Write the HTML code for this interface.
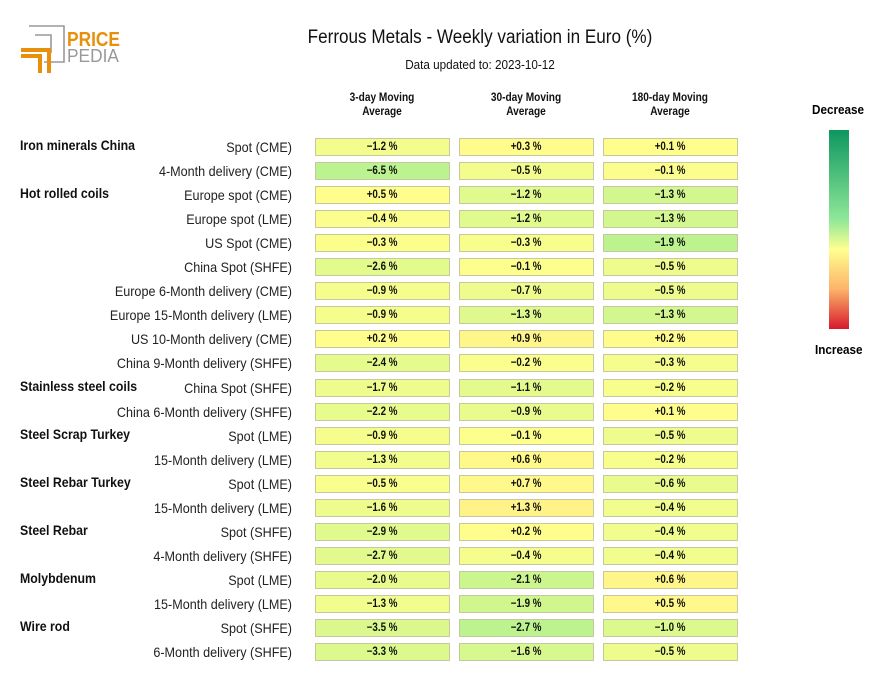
<!DOCTYPE html>
<html><head><meta charset="utf-8"><style>
body{margin:0;width:880px;height:680px;background:#fff;font-family:"Liberation Sans",sans-serif;position:relative;overflow:hidden}
.a{position:absolute}
.lab{font-size:14px;color:#222;text-align:right;width:320px;left:-28px;transform:scaleX(0.9);transform-origin:100% 0;white-space:nowrap}
.grp{font-size:14px;font-weight:bold;color:#111;left:20px;transform:scaleX(0.88);transform-origin:0 0;white-space:nowrap}
.cell{height:18px;border:1px solid #c8c8a0;box-sizing:border-box;font-size:11.5px;font-weight:bold;text-align:center;line-height:16px;color:#111}
.cell span{display:inline-block;transform:scaleX(0.85)}
.hd{font-size:11.5px;font-weight:bold;text-align:center;width:134px;line-height:14px;color:#111;transform:scaleX(0.88)}
</style></head><body>
<div class="a" style="left:20px;top:25px;width:110px;height:50px">
<svg width="110" height="50"><path d="M9 1H44V37H24" fill="none" stroke="#999" stroke-width="1.6"/><path d="M15 10H31V28" fill="none" stroke="#999" stroke-width="1.6"/>
<path d="M1 31H20V48M1 25H29V48" fill="none" stroke="#e8900c" stroke-width="4"/>
<text x="47" y="21" font-size="20" font-weight="bold" fill="#e8900c" font-family="Liberation Sans" textLength="53" lengthAdjust="spacingAndGlyphs">PRICE</text>
<text x="47" y="37" font-size="18" fill="#999" font-family="Liberation Sans" textLength="52" lengthAdjust="spacingAndGlyphs">PEDIA</text></svg></div>
<div class="a" style="top:27px;left:180px;width:600px;text-align:center;font-size:19px;color:#111;transform:scaleX(0.9)">Ferrous Metals - Weekly variation in Euro (%)</div>
<div class="a" style="top:57px;left:280px;width:400px;text-align:center;font-size:13px;color:#111;transform:scaleX(0.9)">Data updated to: 2023-10-12</div>
<div class="a hd" style="left:315px;top:91px">3-day Moving<br>Average</div>
<div class="a hd" style="left:459px;top:91px">30-day Moving<br>Average</div>
<div class="a hd" style="left:603px;top:91px">180-day Moving<br>Average</div>
<div class="a" style="left:812px;top:102px;font-size:13px;font-weight:bold;transform:scaleX(0.9);transform-origin:0 0">Decrease</div>
<div class="a" style="left:815px;top:342px;font-size:13px;font-weight:bold;transform:scaleX(0.9);transform-origin:0 0">Increase</div>
<div class="a" style="left:829px;top:130px;width:20px;height:199px;background:linear-gradient(#0d9660,#8ee898 45%,#ffff90 60%,#fcb36a 80%,#d7192c)"></div>
<div id="tbl"></div>
<script>
const groups=["Iron minerals China","","Hot rolled coils","","","","","","","","Stainless steel coils","","Steel Scrap Turkey","","Steel Rebar Turkey","","Steel Rebar","","Molybdenum","","Wire rod",""];
const labels=["Spot (CME)","4-Month delivery (CME)","Europe spot (CME)","Europe spot (LME)","US Spot (CME)","China Spot (SHFE)","Europe 6-Month delivery (CME)","Europe 15-Month delivery (LME)","US 10-Month delivery (CME)","China 9-Month delivery (SHFE)","China Spot (SHFE)","China 6-Month delivery (SHFE)","Spot (LME)","15-Month delivery (LME)","Spot (LME)","15-Month delivery (LME)","Spot (SHFE)","4-Month delivery (SHFE)","Spot (LME)","15-Month delivery (LME)","Spot (SHFE)","6-Month delivery (SHFE)"];
const ma3=[-1.2,-6.5,0.5,-0.4,-0.3,-2.6,-0.9,-0.9,0.2,-2.4,-1.7,-2.2,-0.9,-1.3,-0.5,-1.6,-2.9,-2.7,-2.0,-1.3,-3.5,-3.3];
const ma30=[0.3,-0.5,-1.2,-1.2,-0.3,-0.1,-0.7,-1.3,0.9,-0.2,-1.1,-0.9,-0.1,0.6,0.7,1.3,0.2,-0.4,-2.1,-1.9,-2.7,-1.6];
const ma180=[0.1,-0.1,-1.3,-1.3,-1.9,-0.5,-0.5,-1.3,0.2,-0.3,-0.2,0.1,-0.5,-0.2,-0.6,-0.4,-0.4,-0.4,0.6,0.5,-1.0,-0.5];
const cols=[ma3,ma30,ma180];
const colX=[315,459,603];
function mix(a,b,t){return a.map((v,i)=>Math.round(v+(b[i]-v)*t));}
function color(v,col){
  const s=[8,3.4,2.4][col];
  let t=Math.max(-1,Math.min(1,v/s));
  let c=t<0?mix([255,255,140],[170,240,144],-t):mix([255,255,140],[253,220,130],t);
  return 'rgb('+c.join(',')+')';
}
const tbl=document.getElementById('tbl');
const y0=138,dy=24.05;
labels.forEach((l,i)=>{
  const y=y0+i*dy;
  if(groups[i]){const g=document.createElement('div');g.className='a grp';g.style.top=(y-1)+'px';g.textContent=groups[i];
  
  
  tbl.appendChild(g);}
  const d=document.createElement('div');d.className='a lab';d.style.top=(y+1)+'px';d.textContent=l;
  
  
  tbl.appendChild(d);
  cols.forEach((arr,c)=>{
    const v=arr[i];const e=document.createElement('div');e.className='a cell';
    e.style.left=colX[c]+'px';e.style.top=y+'px';e.style.width='135px';e.style.background=color(v,c);
    const s=document.createElement('span');
    s.textContent=(v>0?'+':v<0?'\u2212':'')+Math.abs(v).toFixed(1)+' %';
    e.appendChild(s);
    
    
    tbl.appendChild(e);
  });
});
</script>
</body></html>
